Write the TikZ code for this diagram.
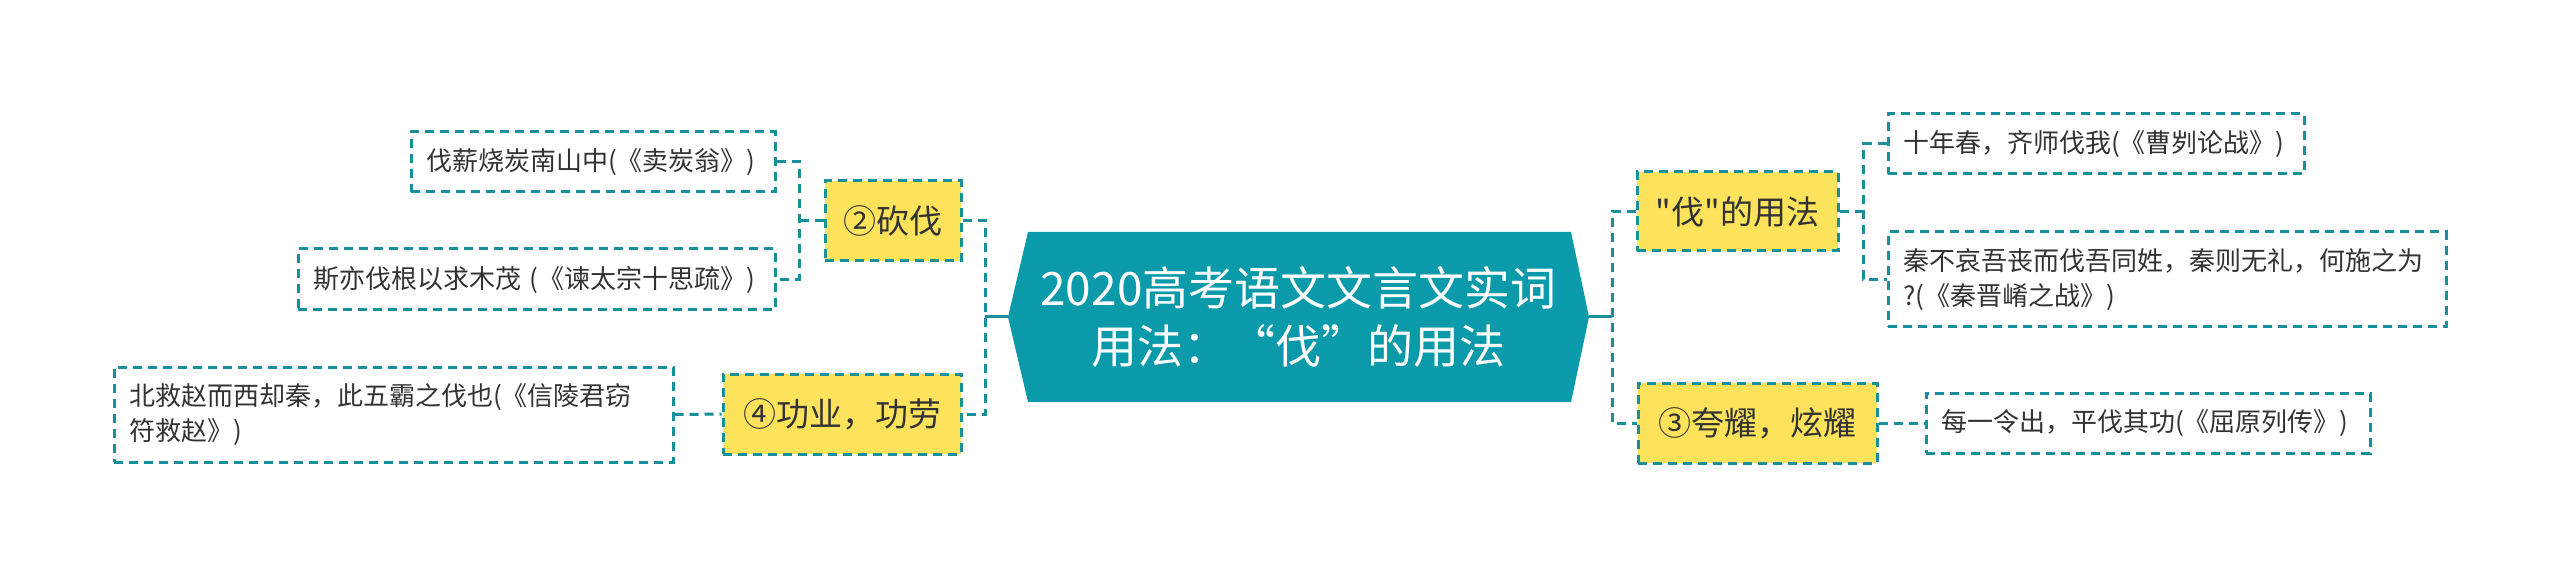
\documentclass[tikz,border=0pt]{standalone}
\usepackage{fontspec}
\newfontfamily\cjk{Noto Sans CJK SC}
\definecolor{lineteal}{HTML}{17909B}
\definecolor{hubteal}{HTML}{0A9AAA}
\definecolor{boxyellow}{HTML}{FDE35C}
\definecolor{txtgray}{HTML}{333333}
\tikzset{
  conn/.style={draw=lineteal, line width=1.5pt, dash pattern=on 4.5pt off 3pt},
  hubline/.style={draw=lineteal, line width=1.5pt},
  leafbox/.style={draw=lineteal, line width=1.5pt, dash pattern=on 4.5pt off 3pt,
    fill=white, text=txtgray, font=\cjk\fontsize{13}{17.5}\selectfont,
    align=left, inner xsep=7.5pt, inner ysep=0pt, anchor=center},
  topicbox/.style={draw=lineteal, line width=1.5pt, dash pattern=on 4.5pt off 3pt,
    fill=boxyellow, text=txtgray, font=\cjk\fontsize{16.5}{20}\selectfont,
    align=center, inner sep=0pt, anchor=center},
}
\begin{document}
\begin{tikzpicture}[x=0.5pt,y=-0.5pt]
\useasboundingbox (0,0) rectangle (2560,577);
\fill[white] (0,0) rectangle (2560,577);

% central hub
\fill[hubteal] (1008,317) -- (1028,232) -- (1571,232) -- (1589,317) -- (1571,402) -- (1028,402) -- cycle;
\node[text=white, font=\cjk\fontsize{23}{29}\selectfont, align=center, inner sep=0pt] (hub) at (1298.5,317)
  {2020高考语文文言文实词\\用法：“伐”的用法};
\coordinate (hubL) at (1008,317);
\coordinate (hubR) at (1589,317);
\coordinate (tl) at (985,317);
\coordinate (tr) at (1612,317);

% left topics
\node[topicbox, minimum width=68pt, minimum height=40pt] (b1) at (893,221) {②砍伐};
\node[topicbox, minimum width=119pt, minimum height=40pt] (b2) at (842,414) {④功业，功劳};

% right topics
\node[topicbox, minimum width=100.5pt, minimum height=39.5pt] (b3) at (1737.5,211.5) {"伐"的用法};
\node[topicbox, minimum width=119.5pt, minimum height=40pt] (b4) at (1757.5,423) {③夸耀，炫耀};

% left leaves
\node[leafbox, text width=167pt, minimum height=30pt] (c1) at (593,162) {伐薪烧炭南山中(《卖炭翁》)};
\node[leafbox, text width=223.5pt, minimum height=30.5pt] (c2) at (536.5,279.5) {斯亦伐根以求木茂 (《谏太宗十思疏》)};
\node[leafbox, text width=264.5pt, minimum height=47.5pt] (c3) at (393.5,414.5) {北救赵而西却秦，此五霸之伐也(《信陵君窃\\符救赵》)};

% right leaves
\node[leafbox, text width=193pt, minimum height=30pt] (d1) at (2096,144) {十年春，齐师伐我(《曹刿论战》)};
\node[leafbox, text width=264pt, minimum height=47.5pt] (d2) at (2167,279.5) {秦不哀吾丧而伐吾同姓，秦则无礼，何施之为\\?(《秦晋崤之战》)};
\node[leafbox, text width=207pt, minimum height=30pt] (d3) at (2148,423) {每一令出，平伐其功(《屈原列传》)};

% connectors
\draw[hubline] (hubL) -- (tl);
\draw[hubline] (hubR) -- (tr);
\draw[conn] (b1.east) -| (tl) |- (b2.east);
\draw[conn] (b3.west) -| (tr) |- (b4.west);

\coordinate (lb) at (799,221);
\draw[conn] (b1.west) -- (lb);
\draw[conn] (c1.east) -| (lb) |- (c2.east);
\draw[conn] (c3.east) -- (b2.west);

\coordinate (rb) at (1863,211.5);
\draw[conn] (b3.east) -- (rb);
\draw[conn] (d1.west) -| (rb) |- (d2.west);
\draw[conn] (b4.east) -- (d3.west);
\end{tikzpicture}
\end{document}
